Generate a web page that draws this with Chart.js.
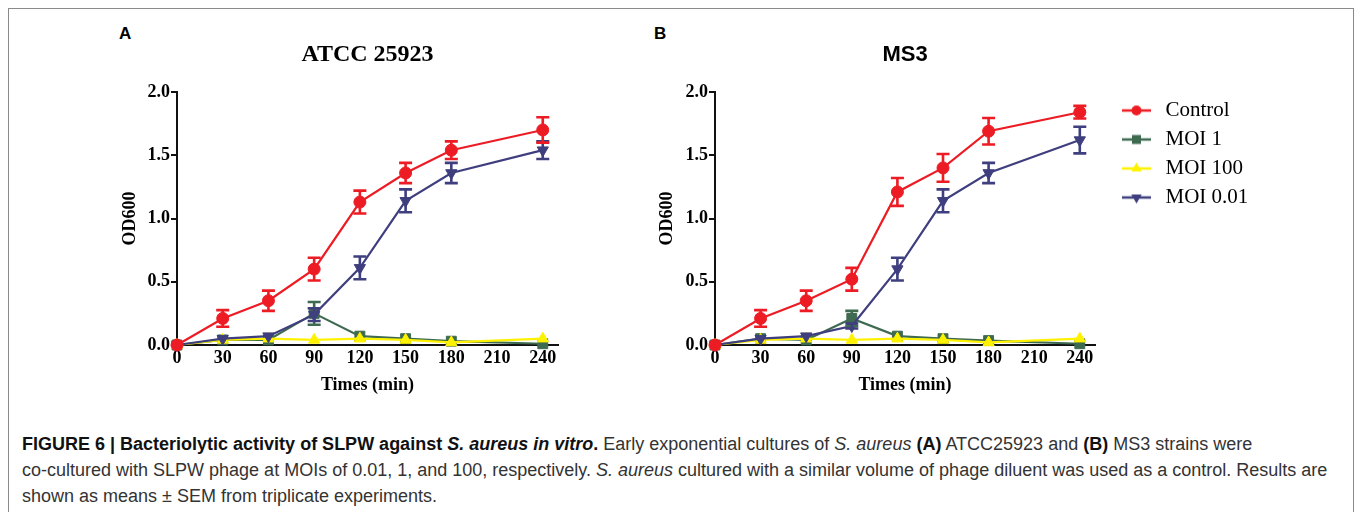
<!DOCTYPE html>
<html>
<head>
<meta charset="utf-8">
<script src="https://cdn.jsdelivr.net/npm/chart.js@4/dist/chart.umd.min.js"></script>
<style>
  html, body { margin: 0; padding: 0; background: #fff; }
  #page { position: relative; width: 1357px; height: 512px; overflow: hidden; background: #fff; }
  #frame { position: absolute; left: 8px; top: 8px; width: 1346px; height: 520px; border: 1px solid #8a8a8a; box-sizing: border-box; }
  canvas { position: absolute; top: 0; }
  #cA { left: 0; }
  #cB { left: 600px; }
  .panel { position: absolute; top: 24px; font: bold 17px "Liberation Sans", Arial, sans-serif; color: #000; }
  .cap { position: absolute; left: 22px; white-space: nowrap; font: 18px "Liberation Sans", Arial, sans-serif; line-height: 21px; color: #333; }
  .cap b { color: #111; }
</style>
</head>
<body>
<div id="page">
  <div id="frame"></div>
  <div class="panel" style="left:119px">A</div>
  <div class="panel" style="left:654px">B</div>
  <canvas id="cA" width="620" height="400"></canvas>
  <canvas id="cB" width="757" height="400"></canvas>
  <div class="cap" style="top:434px"><b>FIGURE 6 | Bacteriolytic activity of SLPW against <i>S. aureus in vitro</i>.</b> Early exponential cultures of <i>S. aureus</i> <b>(A)</b> ATCC25923 and <b>(B)</b> MS3 strains were</div>
  <div class="cap" style="top:460px">co-cultured with SLPW phage at MOIs of 0.01, 1, and 100, respectively. <i>S. aureus</i> cultured with a similar volume of phage diluent was used as a control. Results are</div>
  <div class="cap" style="top:486px">shown as means ± SEM from triplicate experiments.</div>
</div>
<script>
// ---------- data ----------
const times = [0, 30, 60, 90, 120, 150, 180, 240];
const xTicks = [0, 30, 60, 90, 120, 150, 180, 210, 240];
const yTicks = [0, 0.5, 1.0, 1.5, 2.0];
const seriesNames = ['Control', 'MOI 1', 'MOI 100', 'MOI 0.01'];

// Panel A: ATCC 25923
const controlA    = [0, 0.21, 0.35, 0.60, 1.13, 1.36, 1.54, 1.70];
const controlAErr = [0, 0.066, 0.08, 0.09, 0.09, 0.08, 0.07, 0.10];
const moi1A       = [0, 0.04, 0.04, 0.25, 0.07, 0.05, 0.03, 0.01];
const moi1AErr    = [0, 0, 0, 0.09, 0, 0, 0, 0];
const moi100A     = [0, 0.04, 0.05, 0.04, 0.05, 0.04, 0.02, 0.05];
const moi100AErr  = [0, 0, 0, 0, 0, 0, 0, 0];
const moi001A     = [0, 0.05, 0.07, 0.24, 0.61, 1.14, 1.36, 1.54];
const moi001AErr  = [0, 0, 0, 0.05, 0.09, 0.09, 0.08, 0.07];

// Panel B: MS3
const controlB    = [0, 0.21, 0.35, 0.52, 1.21, 1.40, 1.69, 1.84];
const controlBErr = [0, 0.066, 0.08, 0.09, 0.11, 0.11, 0.105, 0.05];
const moi1B       = [0, 0.05, 0.04, 0.21, 0.07, 0.05, 0.035, 0.01];
const moi1BErr    = [0, 0, 0, 0.06, 0, 0, 0, 0];
const moi100B     = [0, 0.04, 0.05, 0.04, 0.05, 0.04, 0.02, 0.05];
const moi100BErr  = [0, 0, 0, 0, 0, 0, 0, 0];
const moi001B     = [0, 0.05, 0.07, 0.15, 0.60, 1.14, 1.36, 1.62];
const moi001BErr  = [0, 0, 0, 0.02, 0.09, 0.09, 0.08, 0.105];

// ---------- styles ----------
const COLORS = ['#ED1C24', '#3E6A50', '#FFF200', '#3F3F7F'];
const STYLES = [
  { pointStyle: 'circle',   radius: 6,   rotation: 0 },
  { pointStyle: 'rect',     radius: 7,   rotation: 0 },
  { pointStyle: 'triangle', radius: 6.5, rotation: 0 },
  { pointStyle: 'triangle', radius: 6.5, rotation: 180 }
];
const ORDERS = [0, 3, 2, 1]; // draw control on top, MOI 1 at bottom
const SERIF = '"Liberation Serif", "Times New Roman", serif';
const SANS = '"Liberation Sans", Arial, sans-serif';

function makeDatasets(vals, errs) {
  return vals.map((v, i) => ({
    label: seriesNames[i],
    data: times.map((t, j) => ({ x: t, y: v[j] })),
    errors: errs[i],
    borderColor: COLORS[i],
    backgroundColor: COLORS[i],
    borderWidth: 2.2,
    pointStyle: STYLES[i].pointStyle,
    pointRadius: STYLES[i].radius,
    pointHoverRadius: STYLES[i].radius,
    pointRotation: STYLES[i].rotation,
    pointBorderWidth: 1,
    tension: 0,
    clip: false,
    order: ORDERS[i]
  }));
}

const errorBars = {
  id: 'errorBars',
  afterDatasetsDraw(chart) {
    const ctx = chart.ctx, ys = chart.scales.y;
    const idx = chart.data.datasets.map((d, i) => i)
      .sort((a, b) => chart.data.datasets[b].order - chart.data.datasets[a].order);
    idx.forEach(i => {
      const ds = chart.data.datasets[i];
      const meta = chart.getDatasetMeta(i);
      ctx.save();
      ctx.strokeStyle = ds.borderColor;
      ctx.lineWidth = 2.6;
      meta.data.forEach((pt, j) => {
        const e = ds.errors[j];
        if (!e) return;
        const v = ds.data[j].y;
        const yt = ys.getPixelForValue(v + e), yb = ys.getPixelForValue(v - e);
        const x = pt.x, cw = 6.5;
        ctx.beginPath();
        ctx.moveTo(x, yt); ctx.lineTo(x, yb);
        ctx.moveTo(x - cw, yt); ctx.lineTo(x + cw, yt);
        ctx.moveTo(x - cw, yb); ctx.lineTo(x + cw, yb);
        ctx.stroke();
      });
      ctx.restore();
    });
  }
};

// legend sample images (line with marker)
const LEG_W = 52, LINE_X0 = 19, LINE_X1 = 48;
function legendImage(i) {
  const c = document.createElement('canvas');
  c.width = LEG_W; c.height = 18;
  const g = c.getContext('2d');
  const cy = 9, cx = (LINE_X0 + LINE_X1) / 2;
  g.strokeStyle = COLORS[i]; g.fillStyle = COLORS[i];
  g.lineWidth = 2.5;
  g.beginPath(); g.moveTo(LINE_X0, cy); g.lineTo(LINE_X1, cy); g.stroke();
  g.beginPath();
  const s = STYLES[i];
  if (s.pointStyle === 'circle') {
    g.arc(cx, cy, 5, 0, Math.PI * 2);
  } else if (s.pointStyle === 'rect') {
    g.rect(cx - 4.5, cy - 4.5, 9, 9);
  } else {
    const r = 6, dir = s.rotation ? -1 : 1;
    g.moveTo(cx, cy - dir * r);
    g.lineTo(cx - r * 0.87, cy + dir * r * 0.5);
    g.lineTo(cx + r * 0.87, cy + dir * r * 0.5);
    g.closePath();
  }
  g.fill();
  return c;
}

function makeOptions(cfg) {
  return {
    responsive: false,
    devicePixelRatio: 1,
    animation: false,
    events: [],
    layout: { padding: cfg.padding },
    plugins: {
      tooltip: { enabled: false },
      title: {
        display: true,
        text: cfg.title,
        fullSize: false,
        color: '#000',
        font: cfg.titleFont,
        padding: { top: 0, bottom: cfg.titleBottom }
      },
      legend: cfg.legend
    },
    scales: {
      x: {
        type: 'linear',
        min: 0, max: 250,
        afterBuildTicks: s => { s.ticks = xTicks.map(v => ({ value: v })); },
        afterFit: s => { s.height = 55; },
        grid: { display: false, drawTicks: false },
        border: { display: true, color: '#111', width: 2 },
        ticks: { color: '#000', font: { family: SERIF, size: 18, weight: 'bold' }, padding: 3, autoSkip: false, maxRotation: 0 },
        title: { display: true, text: 'Times (min)', color: '#000', font: { family: SERIF, size: 18, weight: 'bold' }, padding: { top: 0, bottom: 4 } }
      },
      y: {
        type: 'linear',
        min: 0, max: 2,
        afterBuildTicks: s => { s.ticks = yTicks.map(v => ({ value: v })); },
        afterFit: s => { s.width = cfg.yWidth; },
        grid: { display: true, drawOnChartArea: false, drawTicks: true, tickLength: 6, color: '#111', lineWidth: 2 },
        border: { display: true, color: '#111', width: 2 },
        ticks: { color: '#000', font: { family: SERIF, size: 18, weight: 'bold' }, padding: 1, callback: v => Number(v).toFixed(1) },
        title: { display: true, text: 'OD600', color: '#000', font: { family: SERIF, size: 18, weight: 'bold' }, padding: { top: cfg.yTitlePad, bottom: 0 } }
      }
    }
  };
}

const chartA = new Chart(document.getElementById('cA'), {
  type: 'line',
  data: { datasets: makeDatasets([controlA, moi1A, moi100A, moi001A], [controlAErr, moi1AErr, moi100AErr, moi001AErr]) },
  options: makeOptions({
    padding: { top: 40, left: 0, right: 62, bottom: 0 },
    title: 'ATCC 25923',
    titleFont: { family: SERIF, size: 24, weight: 'bold' },
    titleBottom: 23.2,
    yWidth: 177,
    yTitlePad: 120,
    legend: { display: false }
  }),
  plugins: [errorBars]
});

const legendImgs = [0, 1, 2, 3].map(legendImage);
const chartB = new Chart(document.getElementById('cB'), {
  type: 'line',
  data: { datasets: makeDatasets([controlB, moi1B, moi100B, moi001B], [controlBErr, moi1BErr, moi100BErr, moi001BErr]) },
  options: makeOptions({
    padding: { top: 42, left: 0, right: 0, bottom: 0 },
    title: 'MS3',
    titleFont: { family: SANS, size: 22, weight: 'bold' },
    titleBottom: 23.6,
    yWidth: 115,
    yTitlePad: 57,
    legend: {
      display: true,
      position: 'right',
      align: 'start',
      fullSize: false,
      labels: {
        color: '#000',
        font: { family: SERIF, size: 21 },
        padding: 8,
        usePointStyle: true,
        pointStyleWidth: LEG_W,
        generateLabels(chart) {
          const items = Chart.defaults.plugins.legend.labels.generateLabels(chart);
          items.sort((a, b) => a.datasetIndex - b.datasetIndex);
          items.forEach(it => { it.pointStyle = legendImgs[it.datasetIndex]; it.rotation = 0; it.lineWidth = 0; });
          return items;
        }
      }
    }
  }),
  plugins: [errorBars]
});
// place chart B's plot area so that its right edge sits at page x = 1095
const targetRight = 1095 - 600;
chartB.options.layout.padding.right = Math.max(0, chartB.chartArea.right - targetRight);
chartB.update();
</script>
</body>
</html>
